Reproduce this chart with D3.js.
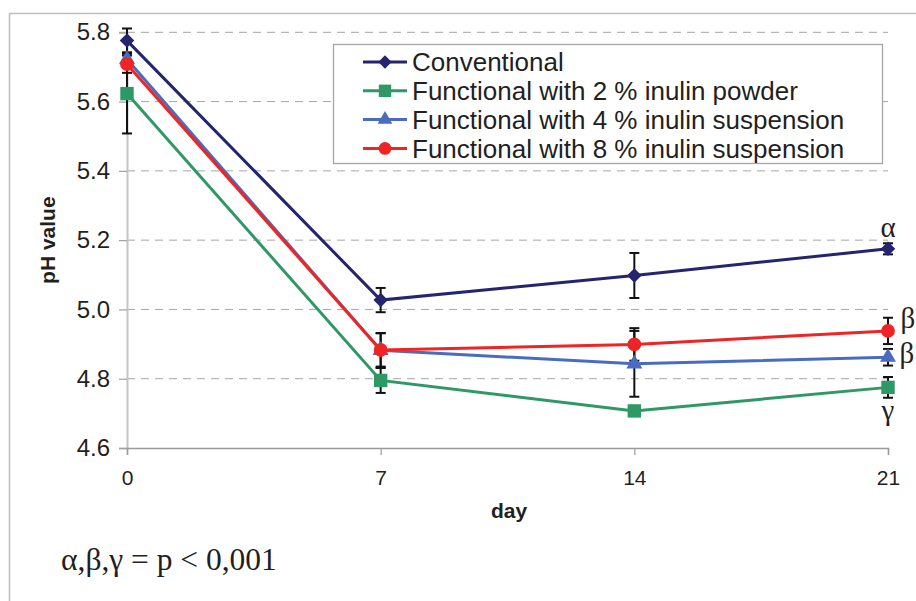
<!DOCTYPE html>
<html>
<head>
<meta charset="utf-8">
<script src="https://cdn.jsdelivr.net/npm/d3@7"></script>
<style>
  body { margin: 0; background: #fff; }
  svg { display: block; font-family: "Liberation Sans", Arial, sans-serif; }
</style>
</head>
<body>
<svg id="chart" width="916" height="601"></svg>
<script>
// data
const days = [0, 7, 14, 21];
const yTicks = [4.6, 4.8, 5.0, 5.2, 5.4, 5.6, 5.8];
const seriesNames = [
  "Conventional",
  "Functional with 2 % inulin powder",
  "Functional with 4 % inulin suspension",
  "Functional with 8 % inulin suspension"
];
const conventional = [5.776, 5.027, 5.098, 5.175];
const inulin2 = [5.623, 4.795, 4.707, 4.775];
const inulin4 = [5.722, 4.882, 4.843, 4.862];
const inulin8 = [5.708, 4.883, 4.899, 4.938];
const errConventional = [0.035, 0.035, 0.065, 0.016];
const errInulin2 = [0.115, 0.036, 0.0, 0.03];
const errInulin4 = [0.02, 0.05, 0.095, 0.024];
const errInulin8 = [0.025, 0.048, 0.047, 0.038];
const sigLabels = ["α", "γ", "β", "β"];

const colors = ["#25246f", "#2e9966", "#4a6cc0", "#ee2524"];
// diamond = square turned 45 degrees
const symbols = [d3.symbolSquare, d3.symbolSquare, d3.symbolTriangle, d3.symbolCircle];
const symSizes = [105, 180, 110, 150];
const symRotate = [45, 0, 0, 0];

const series = seriesNames.map((name, i) => ({
  name,
  values: [conventional, inulin2, inulin4, inulin8][i],
  err: [errConventional, errInulin2, errInulin4, errInulin8][i],
  color: colors[i],
  symbol: symbols[i],
  size: symSizes[i],
  rot: symRotate[i]
}));

const svg = d3.select("#chart");

// outer frame
svg.append("rect")
  .attr("x", 9.5).attr("y", 13.5)
  .attr("width", 940).attr("height", 620)
  .attr("fill", "none").attr("stroke", "#bdbdbd").attr("stroke-width", 1.5);

const x = d3.scaleLinear().domain([0, 21]).range([127, 888]);
const y = d3.scaleLinear().domain([4.6, 5.8]).range([448, 32.3]);

// grid lines
svg.append("g")
  .selectAll("line")
  .data(yTicks.filter(t => t > 4.6))
  .join("line")
  .attr("x1", x(0)).attr("x2", x(21))
  .attr("y1", d => y(d)).attr("y2", d => y(d))
  .attr("stroke", "#a6a6a6").attr("stroke-width", 1)
  .attr("stroke-dasharray", "8,6");

// y axis
const yAxis = svg.append("g")
  .attr("transform", `translate(${x(0)},0)`)
  .call(d3.axisLeft(y).tickValues(yTicks).tickFormat(d3.format(".1f")).tickSize(8).tickPadding(9));
yAxis.select(".domain").attr("stroke", "#c4c4c4").attr("stroke-width", 2);
yAxis.selectAll(".tick line").attr("stroke", "#a0a0a0").attr("stroke-width", 1.2);
yAxis.selectAll(".tick text").attr("font-size", 24).attr("fill", "#231f20")
  .attr("font-family", "Liberation Sans, Arial, sans-serif");

// x axis
const xAxis = svg.append("g")
  .attr("transform", `translate(0,${y(4.6)})`)
  .call(d3.axisBottom(x).tickValues(days).tickFormat(d3.format("d")).tickSize(7).tickPadding(15));
xAxis.select(".domain").attr("stroke", "#9a9a9a").attr("stroke-width", 1.5);
xAxis.selectAll(".tick line").attr("stroke", "#9a9a9a").attr("stroke-width", 1.2);
xAxis.selectAll(".tick text").attr("font-size", 21).attr("fill", "#231f20")
  .attr("font-family", "Liberation Sans, Arial, sans-serif");

// axis titles
svg.append("text")
  .attr("transform", `translate(55,${y(5.2)}) rotate(-90)`)
  .attr("text-anchor", "middle")
  .attr("font-size", 21).attr("font-weight", "bold").attr("fill", "#231f20")
  .text("pH value");
svg.append("text")
  .attr("x", 509).attr("y", 518)
  .attr("text-anchor", "middle")
  .attr("font-size", 21).attr("font-weight", "bold").attr("fill", "#231f20")
  .text("day");

const line = d3.line().x((d, i) => x(days[i])).y(d => y(d));

// lines
svg.append("g")
  .selectAll("path")
  .data(series)
  .join("path")
  .attr("d", d => line(d.values))
  .attr("fill", "none")
  .attr("stroke", d => d.color)
  .attr("stroke-width", 3);

// error bars
const eb = svg.append("g").attr("stroke", "#111").attr("stroke-width", 2);
series.forEach(s => {
  s.values.forEach((v, i) => {
    const e = s.err[i];
    if (!e) return;
    const cx = x(days[i]);
    eb.append("line").attr("x1", cx).attr("x2", cx).attr("y1", y(v - e)).attr("y2", y(v + e));
    [v - e, v + e].forEach(t => {
      eb.append("line").attr("x1", cx - 5).attr("x2", cx + 5).attr("y1", y(t)).attr("y2", y(t));
    });
  });
});

// markers
series.forEach(s => {
  svg.append("g")
    .selectAll("path")
    .data(s.values)
    .join("path")
    .attr("transform", (d, i) => `translate(${x(days[i])},${y(d)}) rotate(${s.rot})`)
    .attr("d", d3.symbol().type(s.symbol).size(s.size))
    .attr("fill", s.color);
});

// significance letters at day 21
const sigPos = [[0, -12, 0], [1, 33, 0], [2, 6, 19], [3, -3, 20]];
sigPos.forEach(([si, dy, dx]) => {
  const s = series[si];
  svg.append("text")
    .attr("x", x(21) + dx).attr("y", y(s.values[3]) + dy)
    .attr("text-anchor", "middle")
    .attr("font-family", "Liberation Serif, Times New Roman, serif")
    .attr("font-size", 29).attr("fill", "#231f20")
    .text(sigLabels[si]);
});

// legend
const legend = svg.append("g");
legend.append("rect")
  .attr("x", 333.5).attr("y", 44.5).attr("width", 549).attr("height", 119)
  .attr("fill", "#fff").attr("stroke", "#a6a6a6").attr("stroke-width", 1.3);
const rows = legend.selectAll("g.row")
  .data(series)
  .join("g")
  .attr("class", "row")
  .attr("transform", (d, i) => `translate(0,${62 + i * 28.8})`);
rows.append("line")
  .attr("x1", 363).attr("x2", 407)
  .attr("stroke", d => d.color).attr("stroke-width", 3);
rows.append("path")
  .attr("transform", d => `translate(385,0) rotate(${d.rot})`)
  .attr("d", d => d3.symbol().type(d.symbol).size(d.size * 0.85)())
  .attr("fill", d => d.color);
rows.append("text")
  .attr("x", 412).attr("dy", "0.36em")
  .attr("font-size", 26).attr("fill", "#231f20")
  .text(d => d.name);

// footnote
svg.append("text")
  .attr("x", 61).attr("y", 570)
  .attr("font-family", "Liberation Serif, Times New Roman, serif")
  .attr("font-size", 31.5).attr("fill", "#231f20")
  .text("α,β,γ = p < 0,001");
</script>
</body>
</html>
